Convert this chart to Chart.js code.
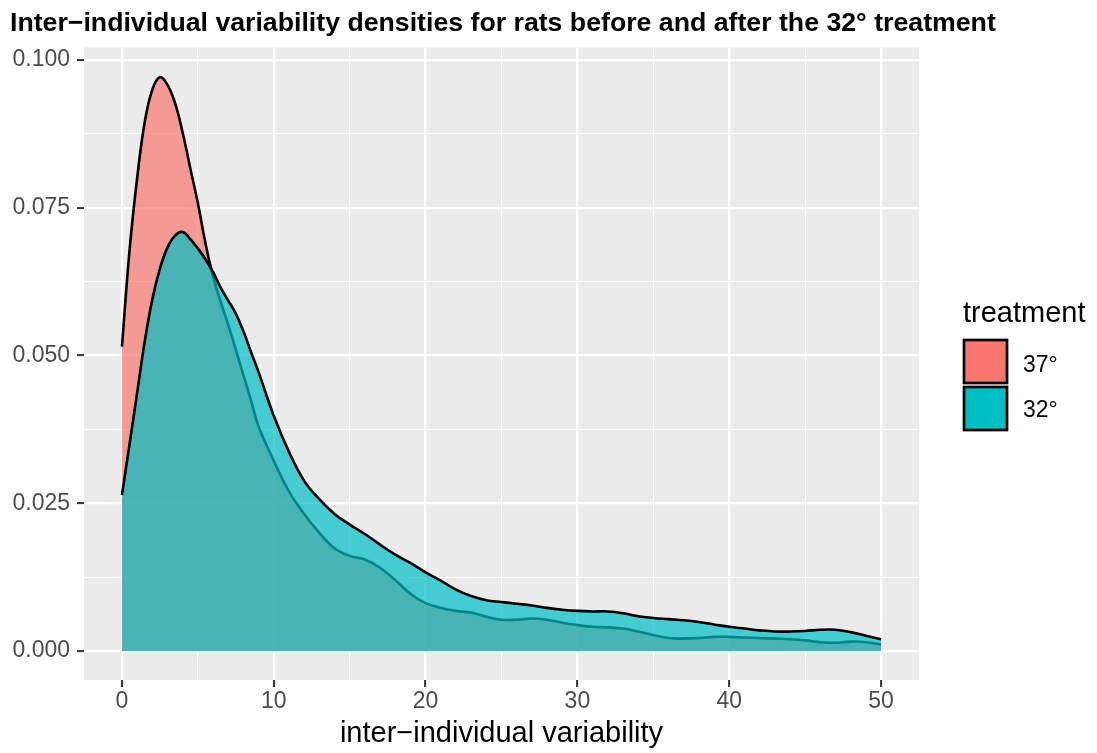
<!DOCTYPE html>
<html>
<head>
<meta charset="utf-8">
<script src="https://cdn.jsdelivr.net/npm/chart.js@4"></script>
<style>
  html, body { margin: 0; padding: 0; background: #ffffff; }
  #wrap { width: 1097px; height: 753px; }
</style>
</head>
<body>
<div id="wrap"><canvas id="densityCanvas"></canvas></div>
<script>
// evaluation points of the density curves
const xValues = [0, 0.5, 1, 1.5, 2, 2.5, 3, 3.5, 4, 4.5, 5, 5.5, 6, 6.5, 7, 7.5, 8, 8.5, 9,
  10, 11, 12, 13, 14, 15, 16, 17, 18, 19, 20, 21, 22, 23, 24, 25, 26, 27, 28, 29, 30,
  31, 32, 33, 34, 35, 36, 37, 38, 39, 40, 41, 42, 43, 44, 45, 46, 47, 48, 49, 50];

// 37° (before)
const density37 = [0.0515, 0.0678, 0.0800, 0.0895, 0.0950, 0.0971, 0.0958, 0.0927, 0.0877, 0.0817,
  0.0758, 0.0690, 0.0634, 0.0591, 0.0552, 0.0510, 0.0467, 0.0424, 0.0380,
  0.0322, 0.0270, 0.0232, 0.0200, 0.0174, 0.0161, 0.0155, 0.0141, 0.0120, 0.0097, 0.0081,
  0.0073, 0.0068, 0.0065, 0.0058, 0.0053, 0.0053, 0.0055, 0.0053, 0.0048, 0.0044,
  0.0041, 0.0040, 0.0038, 0.0033, 0.0027, 0.0022, 0.0021, 0.0022, 0.0024, 0.0024,
  0.0023, 0.0022, 0.0021, 0.0020, 0.0018, 0.0015, 0.0014, 0.0016, 0.0015, 0.0011];

// 32° (after)
const density32 = [0.0264, 0.0350, 0.0437, 0.0524, 0.0595, 0.0647, 0.0683, 0.0703, 0.0709, 0.0697,
  0.0681, 0.0663, 0.0641, 0.0615, 0.0593, 0.0571, 0.0541, 0.0506, 0.0472,
  0.0398, 0.0337, 0.0288, 0.0257, 0.0232, 0.0214, 0.0198, 0.0180, 0.0163, 0.0149, 0.0133,
  0.0119, 0.0104, 0.0093, 0.0086, 0.0083, 0.0080, 0.0077, 0.0073, 0.0070, 0.0068,
  0.0067, 0.0067, 0.0064, 0.0059, 0.0056, 0.0054, 0.0052, 0.0049, 0.0045, 0.0041,
  0.0038, 0.0035, 0.0033, 0.0033, 0.0034, 0.0036, 0.0036, 0.0032, 0.0026, 0.0020];

const groupNames = ["37°", "32°"];
const groupColors = ["#F8766D", "#00BFC4"];
const areaColors = ["rgba(248,118,109,0.7)", "rgba(0,191,196,0.7)"];

// major + minor gridlines (every other one is labelled)
const xTicks = [0, 5, 10, 15, 20, 25, 30, 35, 40, 45, 50];
const yTicks = [0, 0.0125, 0.025, 0.0375, 0.05, 0.0625, 0.075, 0.0875, 0.1];

const fontFamily = "'Liberation Sans', Arial, Helvetica, sans-serif";

const toPoints = (ys) => xValues.map((x, i) => ({ x: x, y: ys[i] }));

const panelBg = {
  id: "panelBg",
  beforeDraw(chart) {
    const { ctx, chartArea: a } = chart;
    ctx.save();
    ctx.fillStyle = "#EBEBEB";
    ctx.fillRect(a.left, a.top, a.right - a.left, a.bottom - a.top);
    ctx.restore();
  }
};

const titleAndLegend = {
  id: "titleAndLegend",
  afterDraw(chart) {
    const ctx = chart.ctx;
    ctx.save();
    ctx.fillStyle = "#000000";
    ctx.textAlign = "left";
    ctx.textBaseline = "alphabetic";
    ctx.font = "bold 26.7px " + fontFamily;
    ctx.fillText("Inter\u2212individual variability densities for rats before and after the 32° treatment", 10, 31);

    ctx.font = "29px " + fontFamily;
    ctx.fillText("treatment", 963, 322);

    const keyTop = [340, 387];
    const baselines = [371.5, 416.5];
    groupNames.forEach((name, i) => {
      ctx.fillStyle = groupColors[i];
      ctx.fillRect(964, keyTop[i], 43, 43);
      ctx.lineWidth = 2.7;
      ctx.strokeStyle = "#000000";
      ctx.strokeRect(964, keyTop[i], 43, 43);
      ctx.fillStyle = "#000000";
      ctx.font = "23px " + fontFamily;
      ctx.fillText(name, 1023, baselines[i]);
    });
    ctx.restore();
  }
};

const gridWidth = (c) => (c.index % 2 === 0 ? 2.2 : 1.1);
const tickCol = (c) => (c.index % 2 === 0 ? "#333333" : "rgba(0,0,0,0)");

new Chart(document.getElementById("densityCanvas"), {
  type: "line",
  data: {
    datasets: [
      {
        label: groupNames[0],
        data: toPoints(density37),
        backgroundColor: areaColors[0],
        borderColor: "#000000",
        borderWidth: 2.6,
        fill: "origin",
        pointRadius: 0,
        tension: 0.4,
        order: 2
      },
      {
        label: groupNames[1],
        data: toPoints(density32),
        backgroundColor: areaColors[1],
        borderColor: "#000000",
        borderWidth: 2.6,
        fill: "origin",
        pointRadius: 0,
        tension: 0.4,
        order: 1
      }
    ]
  },
  options: {
    responsive: true,
    maintainAspectRatio: false,
    animation: false,
    layout: { padding: { left: 10, right: 178, top: 47.5, bottom: 0 } },
    plugins: {
      legend: { display: false },
      title: { display: false },
      tooltip: { enabled: false }
    },
    scales: {
      x: {
        type: "linear",
        min: -2.5,
        max: 52.5,
        afterBuildTicks: (s) => { s.ticks = xTicks.map((v) => ({ value: v })); },
        afterFit: (s) => { s.height = 73; },
        border: { display: false },
        grid: { color: "#FFFFFF", lineWidth: gridWidth, tickColor: tickCol, tickWidth: 2, tickLength: 7 },
        ticks: {
          color: "#4D4D4D",
          padding: 1,
          maxRotation: 0,
          autoSkip: false,
          font: { family: fontFamily, size: 23 },
          callback: (v, i) => (i % 2 === 0 ? String(v) : "")
        },
        title: {
          display: true,
          text: "inter\u2212individual variability",
          color: "#000000",
          padding: { top: 0, bottom: 2 },
          font: { family: fontFamily, size: 29 }
        }
      },
      y: {
        type: "linear",
        min: -0.0049,
        max: 0.10212,
        afterBuildTicks: (s) => { s.ticks = yTicks.map((v) => ({ value: v })); },
        afterFit: (s) => { s.width = 74; },
        border: { display: false },
        grid: { color: "#FFFFFF", lineWidth: gridWidth, tickColor: tickCol, tickWidth: 2, tickLength: 7 },
        ticks: {
          color: "#4D4D4D",
          padding: 7,
          autoSkip: false,
          font: { family: fontFamily, size: 23 },
          callback: (v, i) => (i % 2 === 0 ? v.toFixed(3) : "")
        }
      }
    }
  },
  plugins: [panelBg, titleAndLegend]
});
</script>
</body>
</html>
